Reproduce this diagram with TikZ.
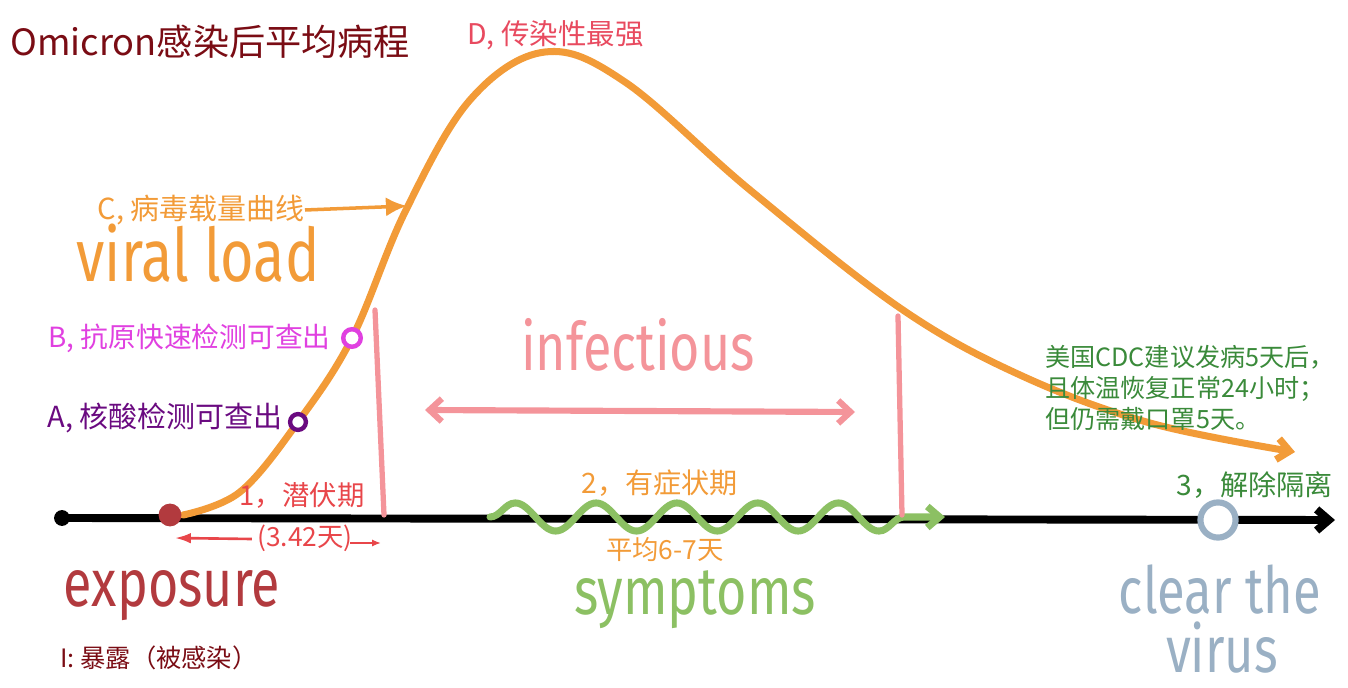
\documentclass[tikz,border=0pt]{standalone}
\usepackage{fontspec}
\setmainfont{Noto Sans CJK SC}
\newfontfamily\handfont{Fira Sans}[FakeStretch=0.78]
\usetikzlibrary{arrows.meta}
\usetikzlibrary{decorations.pathmorphing}
\usetikzlibrary{positioning}
\definecolor{loadorange}{HTML}{F29B38}
\definecolor{infpink}{HTML}{F4949A}
\definecolor{symgreen}{HTML}{8CC063}
\definecolor{titlered}{HTML}{7A0C14}
\definecolor{expored}{HTML}{B23A3E}
\definecolor{latred}{HTML}{E8464A}
\definecolor{peakred}{HTML}{E84A5F}
\definecolor{antimag}{HTML}{E040E0}
\definecolor{nucpurple}{HTML}{6A0A80}
\definecolor{cdcgreen}{HTML}{3A8A3A}
\definecolor{clearblue}{HTML}{9AB0C4}

\begin{document}
\begin{tikzpicture}
[x=0.02cm,y=-0.02cm,%
  every node/.style={inner sep=0pt},%
  lbl/.style={font=\fontsize{16}{19}\selectfont},%
  hand/.style={font=\handfont\fontsize{38}{40}\selectfont},%
  ring/.style={circle,draw,fill=white},%
  barb/.style={-{Straight Barb[length=7pt,width=12pt]}}]
\useasboundingbox (0,0) rectangle (1348,688);
% time axis
\node[circle,fill=black,minimum size=9pt] (start) at (62,518) {};
\coordinate (axisend) at (1335,520);
\draw[line width=4.5pt,barb] (start.center) -- (axisend);
\draw[symgreen,line width=4pt,line cap=round,barb,
  decoration={snake,segment length=46,amplitude=8,post length=18}]
  (490,517) decorate {-- (945,517)};
% infectious window
\coordinate (infL) at (375,310);
\coordinate (infLb) at (384,515);
\coordinate (infR) at (898,316);
\coordinate (infRb) at (902,515);
\draw[infpink,line width=3pt,line cap=round] (infL) -- (infLb);
\draw[infpink,line width=3pt,line cap=round] (infR) -- (infRb);
\coordinate (dblL) at (425,410);
\coordinate (dblR) at (855,412);
\draw[infpink,line width=3.5pt,line cap=round,
  {Straight Barb[length=7pt,width=13pt]}-{Straight Barb[length=7pt,width=13pt]}]
  (dblL) -- (dblR);
% viral load curve
\coordinate (expopt) at (170,515);
\coordinate (nucpt) at (298,422);
\coordinate (antipt) at (352,338);
\coordinate (peak) at (545,52);
\coordinate (loadend) at (1295,452);
\draw[loadorange,line width=4pt,line cap=round,barb]
  plot[smooth,tension=0.6] coordinates {(183,515) (240,492) (nucpt) (antipt)
    (405,212) (470,100) (peak) (625,82) (750,190) (900,308) (1020,375)
    (1150,423) (loadend)};
\node[circle,fill=expored,minimum size=13pt] (expo) at (expopt) {};
\node[ring,draw=nucpurple,line width=2.5pt,minimum size=9pt] (nucA) at (nucpt) {};
\node[ring,draw=antimag,line width=2.5pt,minimum size=10pt] (antiB) at (antipt) {};
% labels
\node[anchor=west,titlered,font=\fontsize{20.6}{24}\selectfont] (title) at (10,42) {Omicron感染后平均病程};
\node[anchor=west,peakred,font=\fontsize{16.2}{19}\selectfont] (peaklbl) at (467,35) {D, 传染性最强};
\node[anchor=east,loadorange,font=\fontsize{16.5}{19}\selectfont] (curvelbl) at (305,210) {C, 病毒载量曲线};
\coordinate (curvept) at (407,206);
\draw[loadorange,line width=2pt,-{Latex[length=12pt,width=11pt]}] (curvelbl.east) -- (curvept);
\node[loadorange,hand,font=\handfont\fontsize{42}{44}\selectfont] (viral) at (198,253) {viral load};
\node[anchor=east,antimag,font=\fontsize{15.8}{19}\selectfont] (antilbl) at (331,338) {B, 抗原快速检测可查出};
\node[anchor=east,nucpurple,font=\fontsize{16.5}{19}\selectfont] (nuclbl) at (283,418) {A, 核酸检测可查出};
\node[latred,font=\fontsize{15.6}{19}\selectfont] (latlbl) at (302,495) {1，潜伏期};
\node[latred,font=\fontsize{15}{18}\selectfont] (latdays) at (305,538) {(3.42天)};
\draw[latred,line width=1.5pt,-{Latex[length=9pt,width=6pt]}] (latdays.west) ++(-5,1) -- (175,538);
\draw[latred,line width=1.2pt,-{Latex[length=5pt,width=4pt]}] (latdays.east) ++(-3,5) -- (381,543);
\node[expored,hand] (exposure) at (172,596) {exposure};
\node[anchor=west,titlered,font=\fontsize{14.4}{17}\selectfont] (expolbl) at (60,658) {I: 暴露（被感染）};
\node[infpink,hand] (infect) at (638,345) {infectious};
\node[loadorange,lbl] (symlbl) at (660,483) {2，有症状期};
\node[loadorange,font=\fontsize{15}{18}\selectfont] (symdays) at (665,550) {平均6-7天};
\node[symgreen,hand] (symp) at (695,600) {symptoms};
\node[anchor=west,cdcgreen,align=left,font=\fontsize{14.3}{17.5}\selectfont] (cdc) at (1045,388)
  {美国CDC建议发病5天后，\\且体温恢复正常24小时；\\但仍需戴口罩5天。};
\node[cdcgreen,lbl] (clearlbl) at (1255,485) {3，解除隔离};
\node[ring,draw=clearblue,line width=3.5pt,minimum size=20pt] (clear) at (1218,520) {};
\node[clearblue,hand,font=\handfont\fontsize{37}{40}\selectfont] (clearthe) at (1220,590) {clear the};
\node[clearblue,hand,font=\handfont\fontsize{37}{40}\selectfont] (virus) at (1222,648) {virus};
\end{tikzpicture}
\end{document}
